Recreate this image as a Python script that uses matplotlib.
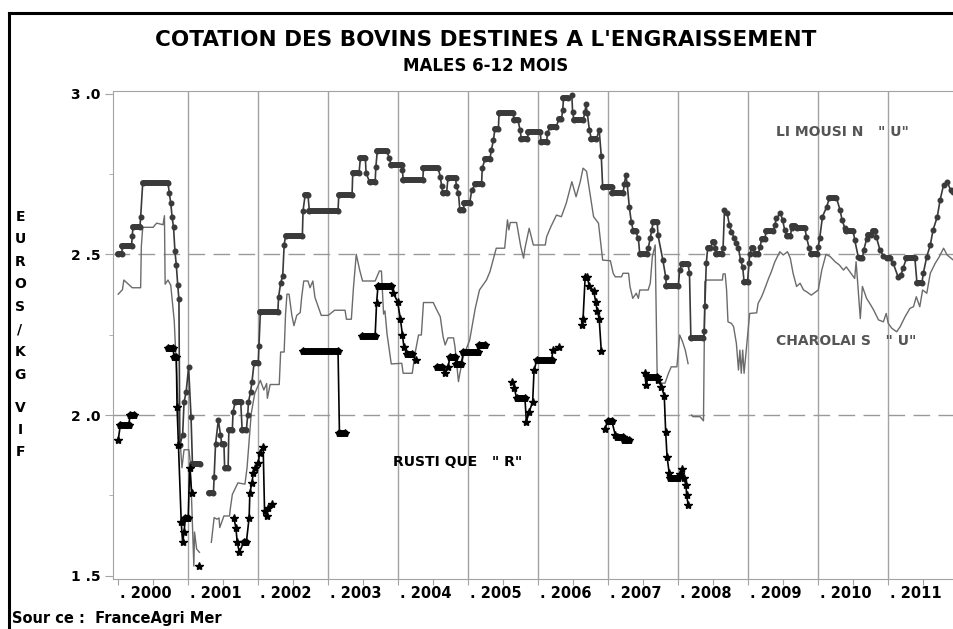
import numpy as np
import matplotlib
matplotlib.use("Agg")
import matplotlib.pyplot as plt
from matplotlib.collections import LineCollection
from matplotlib.lines import Line2D

# ─────────────────────────────────────────
#  DATA  (euros / kg vif; NaN = gap in the series)
# ─────────────────────────────────────────
nan = np.nan

lim_t = [2000.00, 2000.05, 2000.06, 2000.19, 2000.20, 2000.21, 2000.31, 2000.32, 2000.35, 2000.71,
         2000.73, 2000.75, 2000.77, 2000.79, 2000.81, 2000.83, 2000.85, 2000.867, 2000.88, 2000.92,
         2000.94, 2000.97, 2001.005, 2001.04, 2001.06, 2001.17, 2001.24,
         2001.30, 2001.36, 2001.37, 2001.39, 2001.43, 2001.46, 2001.48, 2001.51, 2001.52, 2001.57,
         2001.58, 2001.63, 2001.64, 2001.67, 2001.75, 2001.77, 2001.83, 2001.85, 2001.86, 2001.89,
         2001.91, 2001.94, 2002.00, 2002.01, 2002.03, 2002.28, 2002.29, 2002.32, 2002.35, 2002.37,
         2002.39, 2002.63, 2002.64, 2002.67, 2002.71, 2002.73, 2003.14, 2003.15, 2003.34, 2003.35,
         2003.44, 2003.46, 2003.53, 2003.54, 2003.59, 2003.67, 2003.68, 2003.70, 2003.84, 2003.87,
         2003.90, 2004.05, 2004.06, 2004.07, 2004.35, 2004.36, 2004.57, 2004.60, 2004.62, 2004.64,
         2004.69, 2004.71, 2004.82, 2004.83, 2004.86, 2004.88, 2004.93, 2004.94, 2005.02, 2005.05,
         2005.10, 2005.19, 2005.20, 2005.24, 2005.31, 2005.33, 2005.36, 2005.38, 2005.43, 2005.44,
         2005.64, 2005.66, 2005.71, 2005.74, 2005.76, 2005.84, 2005.86, 2006.03, 2006.04, 2006.12,
         2006.13, 2006.17, 2006.26, 2006.29, 2006.33, 2006.35, 2006.36, 2006.43, 2006.48, 2006.49,
         2006.51, 2006.64, 2006.67, 2006.68, 2006.70, 2006.73, 2006.76, 2006.83, 2006.87, 2006.90,
         2006.92, 2007.05, 2007.06, 2007.21, 2007.23, 2007.25, 2007.27, 2007.30, 2007.33, 2007.36,
         2007.39, 2007.43, 2007.45, 2007.55, 2007.57, 2007.60, 2007.62, 2007.64, 2007.70, 2007.71,
         2007.78, 2007.82, 2007.83, 2008.00, 2008.02, 2008.05, 2008.14, 2008.16, 2008.18, 2008.36,
         2008.37, 2008.38, 2008.40, 2008.42, 2008.46, 2008.49, 2008.51, 2008.53, 2008.54, 2008.62,
         2008.64, 2008.66, 2008.70, 2008.73, 2008.76, 2008.80, 2008.83, 2008.86, 2008.89, 2008.92,
         2008.94, 2008.99, 2009.01, 2009.02, 2009.05, 2009.07, 2009.10, 2009.14, 2009.17, 2009.19,
         2009.24, 2009.25, 2009.36, 2009.38, 2009.40, 2009.46, 2009.49, 2009.52, 2009.55, 2009.60,
         2009.62, 2009.63, 2009.67, 2009.69, 2009.81, 2009.83, 2009.87, 2009.90, 2009.98, 2010.00,
         2010.02, 2010.06, 2010.12, 2010.16, 2010.26, 2010.31, 2010.34, 2010.38, 2010.40, 2010.50,
         2010.52, 2010.57, 2010.59, 2010.63, 2010.65, 2010.69, 2010.71, 2010.76, 2010.78, 2010.81,
         2010.83, 2010.88, 2010.93, 2010.98, 2011.02, 2011.07, 2011.14, 2011.18, 2011.21, 2011.26,
         2011.38, 2011.41, 2011.48, 2011.50, 2011.55, 2011.60, 2011.64, 2011.70, 2011.74, 2011.79,
         2011.84, 2011.89, 2011.93]
lim_v = [2.500, 2.500, 2.527, 2.527, 2.556, 2.584, 2.584, 2.615, 2.723, 2.723,
         2.690, 2.660, 2.615, 2.584, 2.510, 2.466, 2.404, 2.360, 1.907, 1.938,
         2.040, 2.072, 2.149, 1.995, 1.848, 1.848, nan,
         1.758, 1.758, 1.806, 1.909, 1.985, 1.938, 1.909, 1.909, 1.836, 1.836,
         1.954, 1.954, 2.010, 2.040, 2.040, 1.954, 1.954, 2.000, 2.040, 2.072,
         2.103, 2.161, 2.161, 2.216, 2.319, 2.319, 2.367, 2.410, 2.434, 2.530,
         2.556, 2.556, 2.636, 2.684, 2.684, 2.636, 2.636, 2.684, 2.684, 2.754,
         2.754, 2.800, 2.800, 2.754, 2.725, 2.725, 2.772, 2.820, 2.820, 2.800,
         2.778, 2.778, 2.762, 2.731, 2.731, 2.768, 2.768, 2.742, 2.711, 2.690,
         2.690, 2.737, 2.737, 2.711, 2.690, 2.638, 2.638, 2.659, 2.659, 2.700,
         2.718, 2.718, 2.768, 2.797, 2.797, 2.825, 2.856, 2.889, 2.889, 2.939,
         2.939, 2.918, 2.918, 2.887, 2.858, 2.858, 2.879, 2.879, 2.848, 2.848,
         2.877, 2.897, 2.897, 2.920, 2.920, 2.949, 2.985, 2.985, 2.996, 2.944,
         2.918, 2.918, 2.944, 2.968, 2.939, 2.887, 2.858, 2.858, 2.887, 2.806,
         2.709, 2.709, 2.690, 2.690, 2.719, 2.747, 2.719, 2.648, 2.599, 2.571,
         2.571, 2.550, 2.500, 2.500, 2.519, 2.550, 2.575, 2.599, 2.599, 2.560,
         2.482, 2.430, 2.400, 2.400, 2.451, 2.470, 2.470, 2.441, 2.241, 2.241,
         2.260, 2.340, 2.472, 2.519, 2.519, 2.539, 2.539, 2.519, 2.500, 2.500,
         2.519, 2.638, 2.627, 2.591, 2.570, 2.550, 2.535, 2.519, 2.482, 2.460,
         2.415, 2.415, 2.472, 2.500, 2.519, 2.519, 2.500, 2.500, 2.524, 2.547,
         2.547, 2.571, 2.571, 2.590, 2.612, 2.628, 2.607, 2.576, 2.557, 2.557,
         2.581, 2.588, 2.588, 2.581, 2.581, 2.555, 2.519, 2.500, 2.500, 2.524,
         2.550, 2.617, 2.648, 2.676, 2.676, 2.638, 2.607, 2.581, 2.571, 2.571,
         2.545, 2.493, 2.488, 2.488, 2.514, 2.547, 2.560, 2.560, 2.571, 2.571,
         2.553, 2.514, 2.495, 2.488, 2.488, 2.472, 2.430, 2.435, 2.456, 2.488,
         2.488, 2.410, 2.410, 2.441, 2.493, 2.529, 2.576, 2.617, 2.669, 2.716,
         2.726, 2.700, 2.695]

cha_t = [2000.00, 2000.06, 2000.08, 2000.13, 2000.20, 2000.32, 2000.33, 2000.35, 2000.50, 2000.52,
         2000.55, 2000.64, 2000.66, 2000.67, 2000.71, 2000.75, 2000.80, 2000.83, 2000.87, 2000.91,
         2000.94, 2001.01, 2001.03, 2001.08, 2001.09, 2001.12, 2001.16, 2001.25,
         2001.33, 2001.37, 2001.41, 2001.44, 2001.45, 2001.51, 2001.59, 2001.60, 2001.63, 2001.71,
         2001.81, 2001.84, 2001.90, 2001.95, 2002.03, 2002.08, 2002.12, 2002.13, 2002.17, 2002.30,
         2002.32, 2002.37, 2002.39, 2002.41, 2002.44, 2002.48, 2002.51, 2002.55, 2002.60, 2002.62,
         2002.65, 2002.71, 2002.74, 2002.78, 2002.81, 2002.90, 2003.00, 2003.09, 2003.24, 2003.26,
         2003.33, 2003.36, 2003.40, 2003.45, 2003.49, 2003.67, 2003.73, 2003.76, 2003.79, 2003.81,
         2003.84, 2003.90, 2004.05, 2004.07, 2004.20, 2004.24, 2004.29, 2004.33, 2004.36, 2004.50,
         2004.55, 2004.60, 2004.64, 2004.67, 2004.71, 2004.79, 2004.81, 2004.86, 2004.88, 2004.93,
         2005.02, 2005.10, 2005.16, 2005.26, 2005.31, 2005.40, 2005.52, 2005.56, 2005.58, 2005.60,
         2005.69, 2005.75, 2005.79, 2005.81, 2005.87, 2005.93, 2006.10, 2006.12, 2006.18, 2006.26,
         2006.33, 2006.40, 2006.48, 2006.54, 2006.60, 2006.64, 2006.69, 2006.76, 2006.79, 2006.86,
         2006.92, 2007.03, 2007.07, 2007.10, 2007.19, 2007.21, 2007.29, 2007.31, 2007.35, 2007.40,
         2007.43, 2007.45, 2007.57, 2007.60, 2007.63, 2007.67, 2007.70, 2007.81, 2007.86, 2007.90,
         2007.98, 2008.02, 2008.06, 2008.10, 2008.14, 2008.17,
         2008.19, 2008.21, 2008.31, 2008.36, 2008.38, 2008.40, 2008.63, 2008.64, 2008.67, 2008.69,
         2008.71, 2008.76, 2008.79, 2008.83, 2008.86, 2008.88, 2008.90, 2008.92, 2008.94, 2008.98,
         2009.02, 2009.12, 2009.14, 2009.19, 2009.22, 2009.29, 2009.33, 2009.38, 2009.45, 2009.50,
         2009.56, 2009.60, 2009.64, 2009.69, 2009.74, 2009.79, 2009.83, 2009.90, 2010.00, 2010.05,
         2010.11, 2010.17, 2010.24, 2010.30, 2010.36, 2010.40, 2010.52, 2010.54, 2010.56, 2010.60,
         2010.63, 2010.69, 2010.75, 2010.79, 2010.86, 2010.93, 2010.97, 2011.00, 2011.05, 2011.12,
         2011.17, 2011.24, 2011.31, 2011.36, 2011.40, 2011.45, 2011.49, 2011.55, 2011.60, 2011.67,
         2011.73, 2011.79, 2011.84, 2011.93]
cha_v = [2.376, 2.390, 2.420, 2.410, 2.396, 2.396, 2.525, 2.584, 2.584, 2.590,
         2.597, 2.592, 2.620, 2.407, 2.420, 2.404, 2.293, 2.149, 1.964, 1.836,
         1.892, 1.892, 1.851, 1.530, 1.636, 1.583, 1.573, nan,
         1.604, 1.681, 1.676, 1.680, 1.650, 1.686, 1.686, 1.707, 1.753, 1.789,
         1.785, 1.836, 2.005, 2.067, 2.108, 2.078, 2.098, 2.052, 2.095, 2.095,
         2.196, 2.196, 2.314, 2.376, 2.376, 2.310, 2.278, 2.310, 2.319, 2.366,
         2.417, 2.417, 2.396, 2.417, 2.366, 2.310, 2.310, 2.326, 2.326, 2.298,
         2.298, 2.396, 2.500, 2.450, 2.417, 2.417, 2.448, 2.448, 2.314, 2.324,
         2.252, 2.159, 2.161, 2.130, 2.130, 2.192, 2.249, 2.249, 2.350, 2.350,
         2.327, 2.306, 2.244, 2.218, 2.240, 2.240, 2.213, 2.104, 2.130, 2.182,
         2.233, 2.332, 2.389, 2.420, 2.446, 2.519, 2.519, 2.607, 2.576, 2.599,
         2.599, 2.524, 2.488, 2.519, 2.581, 2.529, 2.529, 2.555, 2.586, 2.622,
         2.617, 2.659, 2.726, 2.679, 2.726, 2.768, 2.758, 2.659, 2.617, 2.597,
         2.482, 2.480, 2.441, 2.430, 2.430, 2.441, 2.441, 2.400, 2.363, 2.379,
         2.363, 2.389, 2.389, 2.410, 2.493, 2.529, 2.100, 2.099, 2.130, 2.150,
         2.150, 2.249, 2.229, 2.202, 2.160, nan,
         2.000, 1.995, 1.995, 1.982, 2.415, 2.420, 2.420, 2.439, 2.439, 2.389,
         2.290, 2.285, 2.275, 2.223, 2.140, 2.202, 2.130, 2.202, 2.130, 2.223,
         2.316, 2.318, 2.347, 2.368, 2.384, 2.425, 2.446, 2.477, 2.508, 2.498,
         2.508, 2.488, 2.441, 2.400, 2.410, 2.389, 2.384, 2.373, 2.389, 2.451,
         2.500, 2.493, 2.477, 2.467, 2.451, 2.461, 2.425, 2.477, 2.420, 2.300,
         2.400, 2.363, 2.342, 2.327, 2.296, 2.290, 2.316, 2.285, 2.270, 2.259,
         2.275, 2.306, 2.332, 2.337, 2.368, 2.337, 2.389, 2.379, 2.441, 2.472,
         2.493, 2.519, 2.498, 2.482]

rus_t = [2000.00, 2000.03, 2000.15, 2000.17, 2000.22, 2000.40,
         2000.71, 2000.78, 2000.80, 2000.83, 2000.84, 2000.86, 2000.90, 2000.92, 2000.94, 2000.96,
         2001.00, 2001.02, 2001.05, 2001.10,
         2001.15, 2001.40,
         2001.65, 2001.68, 2001.70, 2001.73, 2001.79, 2001.83, 2001.87, 2001.88, 2001.91, 2001.93,
         2001.96, 2002.00, 2002.02, 2002.07, 2002.09, 2002.12, 2002.14, 2002.20, 2002.40,
         2002.64, 2003.14, 2003.16, 2003.24, 2003.35,
         2003.48, 2003.67, 2003.69, 2003.71, 2003.90, 2003.93, 2003.99, 2004.03, 2004.06, 2004.08,
         2004.12, 2004.20, 2004.25, 2004.40,
         2004.55, 2004.62, 2004.67, 2004.71, 2004.74, 2004.81, 2004.83, 2004.90, 2004.93, 2005.14,
         2005.16, 2005.24, 2005.40,
         2005.63, 2005.66, 2005.69, 2005.81, 2005.83, 2005.87, 2005.92, 2005.94, 2005.98, 2006.19,
         2006.21, 2006.29, 2006.45,
         2006.63, 2006.64, 2006.67, 2006.70, 2006.73, 2006.79, 2006.82, 2006.84, 2006.87, 2006.90,
         2006.92,
         2006.95, 2007.00, 2007.05, 2007.10, 2007.12, 2007.21, 2007.22, 2007.30, 2007.40,
         2007.52, 2007.54, 2007.57, 2007.69, 2007.71, 2007.76, 2007.80, 2007.82, 2007.84, 2007.87,
         2007.88, 2008.00, 2008.02, 2008.05, 2008.08, 2008.11, 2008.12, 2008.14]
rus_v = [1.923, 1.969, 1.969, 2.000, 2.000, nan,
         2.208, 2.208, 2.180, 2.180, 2.026, 1.907, 1.666, 1.604, 1.636, 1.680,
         1.680, 1.836, 1.758, nan,
         1.530, nan,
         1.681, 1.650, 1.604, 1.573, 1.604, 1.604, 1.681, 1.758, 1.789, 1.820,
         1.836, 1.851, 1.882, 1.902, 1.702, 1.686, 1.712, 1.722, nan,
         2.199, 2.199, 1.943, 1.943, nan,
         2.247, 2.247, 2.347, 2.400, 2.400, 2.379, 2.353, 2.300, 2.249, 2.213,
         2.190, 2.190, 2.171, nan,
         2.150, 2.150, 2.130, 2.150, 2.180, 2.180, 2.159, 2.159, 2.197, 2.197,
         2.218, 2.218, nan,
         2.104, 2.083, 2.052, 2.052, 1.979, 2.010, 2.041, 2.140, 2.171, 2.171,
         2.202, 2.213, nan,
         2.280, 2.300, 2.430, 2.428, 2.400, 2.387, 2.353, 2.325, 2.300, 2.200,
         nan,
         1.958, 1.982, 1.982, 1.938, 1.933, 1.933, 1.922, 1.922, nan,
         2.130, 2.093, 2.119, 2.119, 2.109, 2.088, 2.059, 1.948, 1.870, 1.820,
         1.803, 1.803, 1.816, 1.831, 1.803, 1.782, 1.751, 1.720]

years = list(range(2000, 2012))
year_labels = [". " + str(y) for y in years]
y_ticks = [1.5, 2.0, 2.5, 3.0]

TITLE    = "COTATION DES BOVINS DESTINES A L'ENGRAISSEMENT"
SUBTITLE = "MALES 6-12 MOIS"
SOURCE   = "Sour ce :  FranceAgri Mer"
Y_LABEL  = "EUROS/KG VIF"

GRID_GREY = "#a3a3a3"
FONT      = "DejaVu Sans"


def flat_segments(t, v):
    # plateaus (repeated weekly quotes) look like thick bars in the source chart
    segs = []
    for i in range(len(t) - 1):
        if not np.isnan(v[i]) and v[i] == v[i + 1]:
            segs.append([(t[i], v[i]), (t[i + 1], v[i + 1])])
    return segs


# ─────────────────────────────────────────
#  FIGURE
# ─────────────────────────────────────────
fig = plt.figure(figsize=(9.54, 6.29), dpi=100)
ax = fig.add_axes([0.1188, 0.0790, 0.8857, 0.7763])
ax.set_xlim(1999.93, 2012.0)
ax.set_ylim(1.489, 3.008)

# grid
for y in years[1:]:
    ax.axvline(y, color=GRID_GREY, lw=1.0, zorder=1)
for y in (2.0, 2.5):
    ax.axhline(y, color="#999999", lw=1.0, dashes=(12, 6), zorder=1)

# series
ax.plot(cha_t, cha_v, color="#6b6b6b", lw=1.0, zorder=2)

ax.plot(lim_t, lim_v, color="#3a3a3a", lw=1.2, marker="o", ms=3.3, zorder=3)
ax.add_collection(LineCollection(flat_segments(lim_t, lim_v), colors="#3a3a3a",
                                 linewidths=4.3, capstyle="round", zorder=3))

ax.plot(rus_t, rus_v, color="black", lw=1.2, marker="*", ms=6.0, zorder=4)
ax.add_collection(LineCollection(flat_segments(rus_t, rus_v), colors="black",
                                 linewidths=5.0, capstyle="round", zorder=4))

# series labels
ax.text(2009.40, 2.88, 'LI MOUSI N   " U"', color="#555555", fontsize=10,
        fontweight="bold", family=FONT, va="center")
ax.text(2009.40, 2.23, 'CHAROLAI S   " U"', color="#555555", fontsize=10,
        fontweight="bold", family=FONT, va="center")
ax.text(2003.93, 1.855, 'RUSTI QUE   " R"', color="black", fontsize=10,
        fontweight="bold", family=FONT, va="center")

# axes styling
for side in ("left", "top", "bottom"):
    ax.spines[side].set_color(GRID_GREY)
ax.spines["right"].set_visible(False)

ax.set_xticks(np.arange(2000, 2012.01, 0.5))
ax.set_xticklabels([])
ax.tick_params(axis="x", length=4, color=GRID_GREY, direction="out")
for y, lab in zip(years, year_labels):
    ax.text(y + 0.39, -0.03, lab, transform=ax.get_xaxis_transform(), ha="center", va="center",
            fontsize=10.5, fontweight="bold", family=FONT)

ax.set_yticks(y_ticks)
ax.set_yticklabels([f"{v:.1f}".replace(".", " .") for v in y_ticks],
                   fontsize=10, fontweight="bold", family=FONT)
ax.set_yticks([1.75, 2.25, 2.75], minor=True)
ax.tick_params(axis="y", which="major", length=6, color=GRID_GREY, pad=3)
ax.tick_params(axis="y", which="minor", length=3, color=GRID_GREY)

# titles and notes
fig.text(0.509, 0.937, TITLE, ha="center", va="center", fontsize=15.5, fontweight="bold", family=FONT)
fig.text(0.509, 0.895, SUBTITLE, ha="center", va="center", fontsize=12, fontweight="bold", family=FONT)
fig.text(0.013, 0.016, SOURCE, ha="left", va="center", fontsize=10.5, fontweight="bold", family=FONT)

letters = [c for c in Y_LABEL if c != " "]
for i, c in enumerate(letters):
    ypix = 216.7 + i * 22.6 if i < 8 else 408.0 + (i - 8) * 22.0
    fig.text(0.021, 1 - ypix / 629, c, ha="center", va="center", fontsize=10,
             fontweight="bold", family=FONT)

# outer frame (left and top edges only, as in the source)
fig.add_artist(Line2D([9.5 / 954, 9.5 / 954], [0, 1 - 13.3 / 629], color="black", lw=2.2))
fig.add_artist(Line2D([9.5 / 954, 1], [1 - 13.3 / 629, 1 - 13.3 / 629], color="black", lw=2.2))

fig.savefig("out.png", dpi=100)
